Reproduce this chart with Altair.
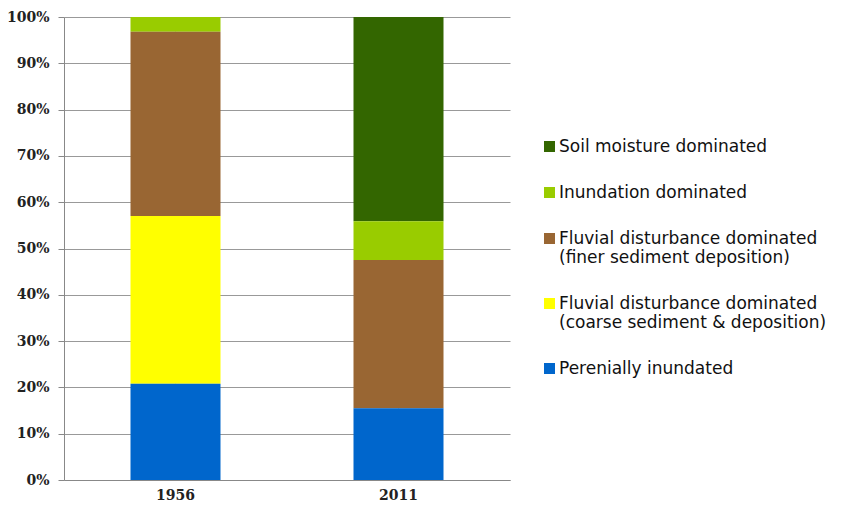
import altair as alt
import pandas as pd

years = ["1956", "2011"]
categories = [
    "Soil moisture dominated",
    "Inundation dominated",
    "Fluvial disturbance dominated|(finer sediment deposition)",
    "Fluvial disturbance dominated|(coarse sediment & deposition)",
    "Perenially inundated",
]
colors = ["#336600", "#99CC00", "#996633", "#FFFF00", "#0066CC"]
stack_rank = [5, 4, 3, 2, 1]
values_1956 = [0.0, 0.032, 0.398, 0.362, 0.208]
values_2011 = [0.441, 0.084, 0.32, 0.0, 0.155]

rows = []
for yr, vals in zip(years, [values_1956, values_2011]):
    for cat, v, r in zip(categories, vals, stack_rank):
        rows.append({"year": yr, "category": cat, "value": v, "rank": r})
df = pd.DataFrame(rows)

chart = alt.Chart(df).mark_bar(size=90).encode(
    x=alt.X("year:N", title=None,
            scale=alt.Scale(paddingInner=0, paddingOuter=0),
            axis=alt.Axis(labelAngle=0, ticks=False, domainColor="#888888",
                          labelFont="DejaVu Serif", labelFontWeight="bold",
                          labelFontSize=14, labelColor="#222222", labelPadding=8)),
    y=alt.Y("value:Q", title=None, stack="zero",
            scale=alt.Scale(domain=[0, 1], nice=False),
            axis=alt.Axis(format=".0%", values=[i / 10 for i in range(11)],
                          gridColor="#999999", domainColor="#888888",
                          tickColor="#888888", tickSize=6, labelPadding=9,
                          labelFont="DejaVu Serif", labelFontWeight="bold",
                          labelFontSize=14, labelColor="#222222")),
    color=alt.Color("category:N",
                    scale=alt.Scale(domain=categories, range=colors),
                    legend=alt.Legend(title=None, orient="none",
                                      legendX=477, legendY=121,
                                      symbolType="square", symbolSize=121,
                                      symbolStrokeWidth=0,
                                      labelExpr="split(datum.label, '|')",
                                      labelFont="DejaVu Sans", labelFontSize=17,
                                      labelColor="#111111", labelLimit=400,
                                      rowPadding=28, labelOffset=1)),
    order=alt.Order("rank:Q", sort="ascending"),
).properties(
    width=446, height=463,
    autosize=alt.AutoSizeParams(type="none"),
    padding={"left": 56, "top": 9, "right": 328, "bottom": 22},
).configure_view(stroke=None).configure_axis(grid=True)

chart.save("out.html", embed_options={"renderer": "svg", "actions": False})
